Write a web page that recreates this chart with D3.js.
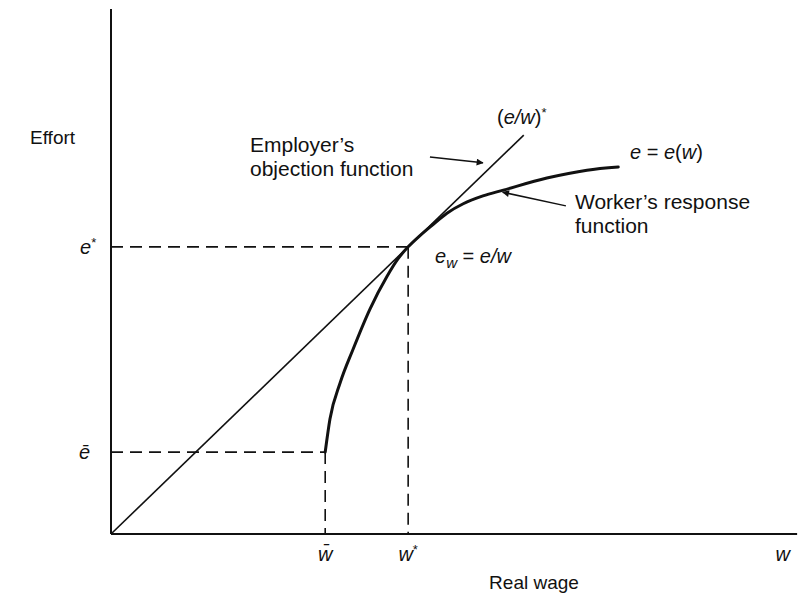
<!DOCTYPE html>
<html>
<head>
  <meta charset="utf-8">
  <script src="https://d3js.org/d3.v7.min.js"></script>
  <style>
    body { margin: 0; background: #fff; }
    text {
      font-family: 'Liberation Sans', Arial, sans-serif;
      fill: #111;
    }
    .note { font-size: 21px; }
    .axis-title { font-size: 19px; }
    .math { font-size: 20px; font-style: italic; }
    .axis { stroke: #111; stroke-width: 2px; }
    .guide { stroke: #111; stroke-width: 1.6px; stroke-dasharray: 12,7; fill: none; }
    .ray { stroke: #111; stroke-width: 1.6px; fill: none; }
    .response { stroke: #111; stroke-width: 3px; fill: none; stroke-linecap: round; }
    .pointer { stroke: #111; stroke-width: 1.5px; }
  </style>
</head>
<body>
<div id="chart"></div>
<script>
  // key points (wage, effort) in chart units
  var wBar = 3.15, eBar = 1.56;
  var wStar = 4.37, eStar = 5.47;

  // worker's response function e = e(w)
  var responseW = [3.15, 3.22, 3.37, 3.56, 3.81, 4.06, 4.22, 4.37, 4.54, 4.74, 4.94, 5.18, 5.47, 5.77, 6.41, 7.00, 7.46];
  var responseE = [1.56, 2.19, 2.88, 3.52, 4.29, 4.91, 5.24, 5.47, 5.68, 5.90, 6.11, 6.29, 6.44, 6.55, 6.78, 6.93, 6.99];

  // employer's ray (e/w)* from the origin
  var rayW = [0, 6.07];

  // tick labels on the axes
  var xTickLabels = ["w\u0304", "w", "w"];
  var xTickValues = [wBar, wStar, 9.88];
  var xTickStars = [false, true, false];
  var yTickLabels = ["e", "\u0113"];
  var yTickValues = [eStar, eBar];
  var yTickStars = [true, false];

  var width = 799, height = 594;
  var svg = d3.select("#chart").append("svg")
      .attr("width", width)
      .attr("height", height);

  var x = d3.scaleLinear().domain([0, 10]).range([111, 791]);
  var y = d3.scaleLinear().domain([0, 10]).range([534, 9]);

  // arrowhead
  svg.append("defs").append("marker")
      .attr("id", "head")
      .attr("viewBox", "0 0 10 10")
      .attr("refX", 9).attr("refY", 5)
      .attr("markerWidth", 9).attr("markerHeight", 7)
      .attr("markerUnits", "userSpaceOnUse")
      .attr("orient", "auto")
    .append("path")
      .attr("d", "M0,0 L10,5 L0,10 Z")
      .attr("fill", "#111");

  // axes
  svg.append("line").attr("class", "axis")
      .attr("x1", x(0)).attr("y1", y(0))
      .attr("x2", x(0)).attr("y2", y(10));
  svg.append("line").attr("class", "axis")
      .attr("x1", x(0)).attr("y1", y(0))
      .attr("x2", x(10.09)).attr("y2", y(0));

  // dashed guides
  var guides = [
    [[0, eStar], [wStar, eStar]],
    [[wStar, eStar], [wStar, 0]],
    [[0, eBar], [wBar, eBar]],
    [[wBar, eBar], [wBar, 0]]
  ];
  var line = d3.line().x(function(d) { return x(d[0]); }).y(function(d) { return y(d[1]); });
  svg.selectAll(".guide").data(guides).enter().append("path")
      .attr("class", "guide")
      .attr("d", line);

  // ray through the origin, tangent at (w*, e*)
  var slope = eStar / wStar;
  svg.append("path").attr("class", "ray")
      .attr("d", line(rayW.map(function(w) { return [w, w * slope]; })));

  // response curve
  var curve = d3.line()
      .x(function(d) { return x(d[0]); })
      .y(function(d) { return y(d[1]); })
      .curve(d3.curveMonotoneX);
  svg.append("path").attr("class", "response")
      .attr("d", curve(responseW.map(function(w, i) { return [w, responseE[i]]; })));

  // pointer arrows
  var arrows = [
    { from: [4.69, 7.18], to: [5.47, 7.07] },
    { from: [6.69, 6.25], to: [5.76, 6.51] }
  ];
  svg.selectAll(".pointer").data(arrows).enter().append("line")
      .attr("class", "pointer")
      .attr("x1", function(d) { return x(d.from[0]); })
      .attr("y1", function(d) { return y(d.from[1]); })
      .attr("x2", function(d) { return x(d.to[0]); })
      .attr("y2", function(d) { return y(d.to[1]); })
      .attr("marker-end", "url(#head)");

  // x tick labels
  xTickValues.forEach(function(v, i) {
    var t = svg.append("text").attr("class", "math")
        .attr("x", x(v)).attr("y", 561)
        .attr("text-anchor", "middle")
        .text(xTickLabels[i]);
    if (xTickStars[i]) {
      t.append("tspan").attr("dy", -7).attr("font-size", 13).attr("font-style", "normal").text("*");
    }
  });

  // y tick labels
  yTickValues.forEach(function(v, i) {
    var t = svg.append("text").attr("class", "math")
        .attr("x", yTickStars[i] ? 80 : 79).attr("y", y(v) + 7)
        .attr("text-anchor", "start")
        .text(yTickLabels[i]);
    if (yTickStars[i]) {
      t.append("tspan").attr("dy", -7).attr("font-size", 13).attr("font-style", "normal").text("*");
    }
  });

  // axis titles
  svg.append("text").attr("class", "axis-title")
      .attr("x", 30).attr("y", 144)
      .text("Effort");
  svg.append("text").attr("class", "axis-title")
      .attr("x", 534).attr("y", 589)
      .attr("text-anchor", "middle")
      .text("Real wage");

  // annotations
  var emp = svg.append("text").attr("class", "note").attr("x", 250).attr("y", 152);
  emp.append("tspan").attr("x", 250).text("Employer\u2019s");
  emp.append("tspan").attr("x", 250).attr("dy", 24).text("objection function");

  var wrk = svg.append("text").attr("class", "note").attr("x", 575).attr("y", 209);
  wrk.append("tspan").attr("x", 575).text("Worker\u2019s response");
  wrk.append("tspan").attr("x", 575).attr("dy", 24).text("function");

  var ratio = svg.append("text").attr("class", "math").attr("x", 497).attr("y", 124);
  ratio.append("tspan").attr("font-style", "normal").text("(");
  ratio.append("tspan").text("e/w");
  ratio.append("tspan").attr("font-style", "normal").text(")");
  ratio.append("tspan").attr("dy", -7).attr("font-size", 13).attr("font-style", "normal").text("*");

  var ew = svg.append("text").attr("class", "math").attr("x", 630).attr("y", 159);
  ew.append("tspan").text("e");
  ew.append("tspan").attr("font-style", "normal").text(" = ");
  ew.append("tspan").text("e");
  ew.append("tspan").attr("font-style", "normal").text("(");
  ew.append("tspan").text("w");
  ew.append("tspan").attr("font-style", "normal").text(")");

  var tang = svg.append("text").attr("class", "math").attr("x", 435).attr("y", 263);
  tang.append("tspan").text("e");
  tang.append("tspan").attr("dy", 5).attr("font-size", 15).text("w");
  tang.append("tspan").attr("dy", -5).attr("font-style", "normal").text(" = ");
  tang.append("tspan").text("e/w");
</script>
</body>
</html>
